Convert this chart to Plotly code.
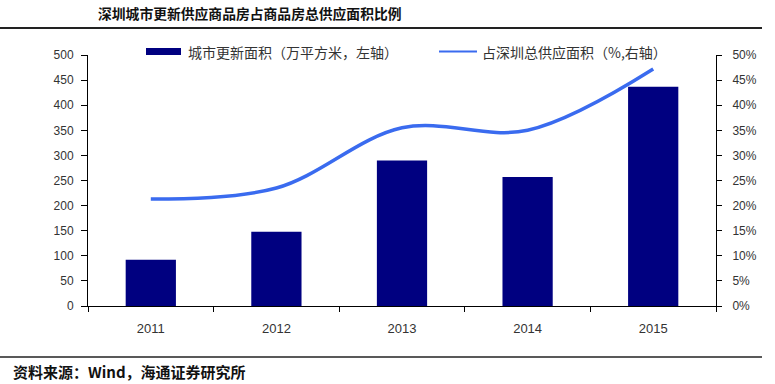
import plotly.graph_objects as go

years = ["2011", "2012", "2013", "2014", "2015"]
renewal_area = [92, 148, 290, 257, 437]
share_pct = [0.213, 0.235, 0.355, 0.350, 0.472]
left_ticks = list(range(0, 501, 50))
right_ticks = [i / 100 for i in range(0, 51, 5)]
bar_name = "城市更新面积（万平方米，左轴）"
line_name = "占深圳总供应面积（%,右轴）"

W, H = 775, 384
L, R, T, B = 88, 716, 55, 306

def py(y):
    return (B - y) / (B - T)

def px(x):
    return (x - L) / (R - L)

BAR_COLOR = "#000080"
LINE_COLOR = "#3A6BEF"

fig = go.Figure()
fig.add_trace(go.Bar(
    x=years, y=renewal_area, name=bar_name,
    marker=dict(color=BAR_COLOR, line=dict(width=0)), width=0.4,
))
fig.add_trace(go.Scatter(
    x=years, y=share_pct, name=line_name, yaxis="y2",
    mode="lines", line=dict(color=LINE_COLOR, width=3.5, shape="spline", smoothing=1.0),
))

tickfont = dict(family="Liberation Sans, Arial", size=12, color="#333")
xfont = dict(family="Liberation Sans, Arial", size=13, color="#333")
legfont = dict(family="Noto Sans CJK SC", size=14, color="#333")
fig.update_layout(
    width=W, height=H,
    margin=dict(l=L, r=W - R, t=T, b=H - B, autoexpand=False),
    paper_bgcolor="white", plot_bgcolor="white",
    showlegend=False,
    bargap=0.6,
    xaxis=dict(type="category", showline=True, linecolor="black", linewidth=1,
               ticks="outside", tickson="boundaries", ticklen=5, tickcolor="black",
               tickfont=xfont, ticklabelstandoff=10, showgrid=False, zeroline=False),
    yaxis=dict(range=[0, 500], tickvals=left_ticks, showline=True, linecolor="black",
               linewidth=1, ticks="outside", ticklen=6, tickcolor="black",
               tickfont=tickfont, ticklabelstandoff=5, showgrid=False, zeroline=False),
    yaxis2=dict(range=[0, 0.5], tickvals=right_ticks, tickformat=".0%", overlaying="y",
                side="right", showline=True, linecolor="black", linewidth=1,
                ticks="outside", ticklen=5, tickcolor="black", tickfont=tickfont,
                ticklabelstandoff=8, showgrid=False, zeroline=False),
    shapes=[
        dict(type="line", xref="paper", yref="paper", x0=px(0), x1=px(762),
             y0=py(28), y1=py(28), line=dict(color="#222", width=2)),
        dict(type="line", xref="paper", yref="paper", x0=px(0), x1=px(762),
             y0=py(357), y1=py(357), line=dict(color="#222", width=1.5)),
        # legend glyphs
        dict(type="rect", xref="paper", yref="paper", x0=px(146), x1=px(181),
             y0=py(55), y1=py(48), fillcolor=BAR_COLOR, line=dict(width=0)),
        dict(type="line", xref="paper", yref="paper", x0=px(439), x1=px(477),
             y0=py(51.5), y1=py(51.5), line=dict(color=LINE_COLOR, width=2)),
    ],
    annotations=[
        dict(text="<b>深圳城市更新供应商品房占商品房总供应面积比例</b>", xref="paper", yref="paper",
             x=px(96), y=py(13), xanchor="left", yanchor="middle", showarrow=False,
             font=dict(family="Noto Sans CJK SC", size=13.8, color="#111")),
        dict(text="<b>资料来源：Wind，海通证券研究所</b>", xref="paper", yref="paper",
             x=px(11), y=py(371), xanchor="left", yanchor="middle", showarrow=False,
             font=dict(family="Noto Sans CJK SC", size=15, color="#111")),
        dict(text=bar_name, xref="paper", yref="paper",
             x=px(186), y=py(51.5), xanchor="left", yanchor="middle", showarrow=False,
             font=legfont),
        dict(text=line_name, xref="paper", yref="paper",
             x=px(480), y=py(51.5), xanchor="left", yanchor="middle", showarrow=False,
             font=legfont),
    ],
)

fig.write_html(
    "out.html",
    config={"displayModeBar": False},
    post_script="document.body.style.margin='0';document.body.style.overflow='hidden';",
)
